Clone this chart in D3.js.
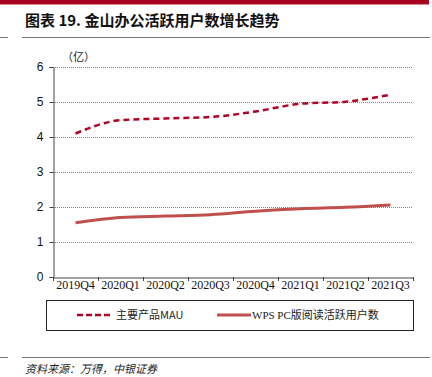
<!DOCTYPE html>
<html><head><meta charset="utf-8">
<script src="https://cdn.jsdelivr.net/npm/d3@7/dist/d3.min.js"></script>
<style>body{margin:0;background:#fff}svg{display:block}</style>
</head><body>
<script>
const categories = ["2019Q4","2020Q1","2020Q2","2020Q3","2020Q4","2021Q1","2021Q2","2021Q3"];
const mau = [4.10, 4.48, 4.53, 4.57, 4.73, 4.95, 5.01, 5.21];
const wpsPc = [1.55, 1.70, 1.74, 1.78, 1.88, 1.95, 1.99, 2.06];
const yTicks = [0,1,2,3,4,5,6];
const seriesNames = ["主要产品MAU","WPS PC版阅读活跃用户数"];

const W=432,H=377;
const svg=d3.select("body").append("svg").attr("width",W).attr("height",H);
// top red bar
svg.append("rect").attr("x",0).attr("y",0).attr("width",W-3).attr("height",4).attr("fill","#a8001e");
svg.append("rect").attr("x",0).attr("y",4).attr("width",W-3).attr("height",1).attr("fill","#d98a97");
// title
svg.append("text").attr("x",25).attr("y",26).attr("font-family","'Noto Sans CJK SC',sans-serif")
  .attr("font-size",15).attr("font-weight","bold").attr("fill","#111").text("图表 19. 金山办公活跃用户数增长趋势");
svg.append("line").attr("x1",22).attr("x2",430).attr("y1",37.5).attr("y2",37.5).attr("stroke","#777").attr("stroke-width",1);
svg.append("line").attr("x1",0).attr("x2",8).attr("y1",37.5).attr("y2",37.5).attr("stroke","#777").attr("stroke-width",1);

const x=d3.scaleBand().domain(categories).range([53,413]);
const y=d3.scaleLinear().domain([0,6]).range([277,67]);

// gridlines
svg.append("g").selectAll("line").data(yTicks.filter(d=>d>0)).join("line")
  .attr("x1",53).attr("x2",413).attr("y1",d=>Math.round(y(d))+0.5).attr("y2",d=>Math.round(y(d))+0.5)
  .attr("stroke","#666").attr("stroke-width",0.8).attr("stroke-dasharray","1,1");

// y axis
const ya=svg.append("g").attr("transform","translate(53.5,0)")
  .call(d3.axisLeft(y).tickValues(yTicks).tickSize(4).tickFormat(d3.format("d")));
ya.select(".domain").attr("stroke","#444");
ya.selectAll(".tick line").attr("stroke","#444");
ya.selectAll("text").attr("font-family","'Liberation Sans',Arial,sans-serif").attr("font-size",12).attr("fill","#111").attr("dx",-3);

// x axis
const xa=svg.append("g").attr("transform","translate(0,277.5)")
  .call(d3.axisBottom(x).tickSize(0).tickSizeOuter(0));
xa.select(".domain").attr("stroke","#444");
xa.selectAll(".tick line").remove();
xa.selectAll("text").attr("font-family","'Liberation Serif','Times New Roman',serif").attr("font-size",12).attr("fill","#111").attr("dy",8);
// boundary ticks
const bounds=categories.map(c=>x(c)).concat([x.range()[1]]);
svg.append("g").selectAll("line").data(bounds).join("line")
  .attr("x1",d=>Math.round(d)+0.5).attr("x2",d=>Math.round(d)+0.5).attr("y1",277).attr("y2",281)
  .attr("stroke","#444");

// unit label
svg.append("text").attr("x",62).attr("y",61).attr("font-family","'Noto Sans CJK SC',sans-serif")
  .attr("font-size",11).attr("fill","#222").text("（亿）");

const cx=d=>x(d)+x.bandwidth()/2;
const line=d3.line().x((d,i)=>cx(categories[i])).y(d=>y(d)).curve(d3.curveMonotoneX);
svg.append("path").datum(wpsPc).attr("d",line).attr("fill","none").attr("stroke","#c0504d").attr("stroke-width",3);
svg.append("path").datum(mau).attr("d",line).attr("fill","none").attr("stroke","#b00026").attr("stroke-width",2.5).attr("stroke-dasharray","6,4");

// legend
svg.append("rect").attr("x",46.5).attr("y",300.5).attr("width",367).attr("height",30).attr("fill","none").attr("stroke","#222").attr("stroke-width",1);
svg.append("line").attr("x1",77).attr("x2",112).attr("y1",315).attr("y2",315).attr("stroke","#b00026").attr("stroke-width",2.5).attr("stroke-dasharray","6,3");
svg.append("text").attr("x",116).attr("y",319).attr("font-family","'Noto Sans CJK SC',sans-serif").attr("font-size",11).attr("fill","#222").text(seriesNames[0]);
svg.append("line").attr("x1",217).attr("x2",251).attr("y1",315).attr("y2",315).attr("stroke","#c0504d").attr("stroke-width",3);
svg.append("text").attr("x",252).attr("y",319).attr("font-family","'Liberation Serif','Noto Sans CJK SC',serif").attr("font-size",11).attr("fill","#222").text(seriesNames[1]);

// bottom rule and source
svg.append("line").attr("x1",22).attr("x2",430).attr("y1",357.5).attr("y2",357.5).attr("stroke","#777");
svg.append("line").attr("x1",0).attr("x2",8).attr("y1",357.5).attr("y2",357.5).attr("stroke","#777");
svg.append("text").attr("x",25).attr("y",373).attr("font-family","'Noto Sans CJK SC',sans-serif").attr("font-size",11)
  .attr("font-style","italic").attr("fill","#222").text("资料来源：万得，中银证券");
</script>
</body></html>
